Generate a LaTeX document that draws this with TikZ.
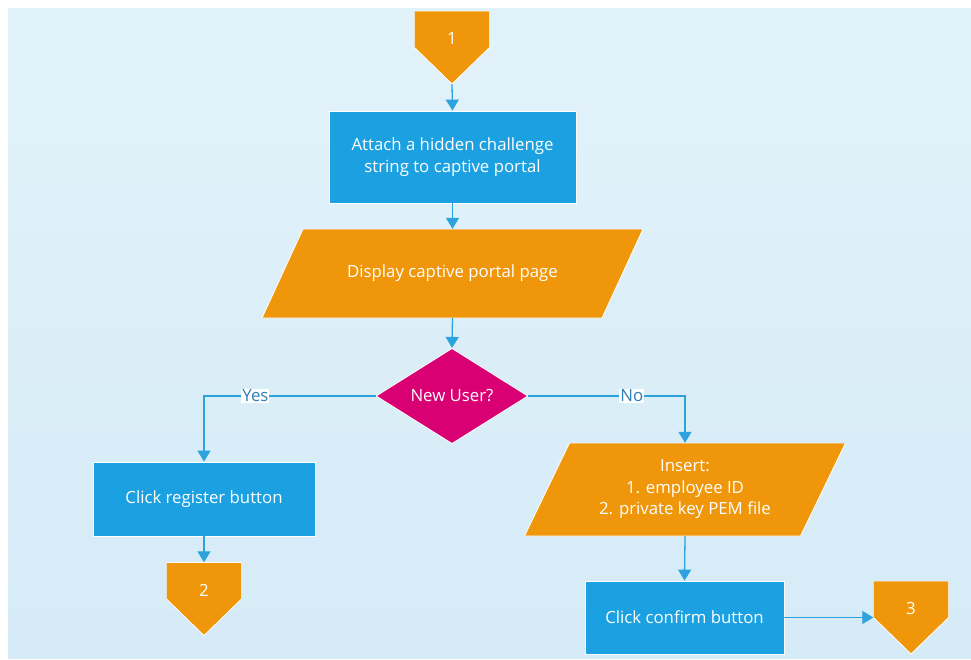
\documentclass[tikz,border=0pt]{standalone}
\usepackage{fontspec}
\setmainfont{Open Sans}
\usetikzlibrary{shapes.geometric,arrows.meta}

\definecolor{bgtop}{HTML}{E2F2FA}
\definecolor{bgbot}{HTML}{D5EBF7}
\definecolor{procblue}{HTML}{1BA1E2}
\definecolor{ioorange}{HTML}{F0960B}
\definecolor{decmagenta}{HTML}{D80073}
\definecolor{linkblue}{HTML}{2DA2DD}
\definecolor{labelblue}{HTML}{2E7FB6}

\begin{document}
\begin{tikzpicture}[x=1pt,y=-1pt,
  font=\fontsize{16.8}{21.5}\selectfont,
  proc/.style={rectangle, fill=procblue, draw=white, line width=0.8pt,
    text=white, align=center, inner sep=0pt},
  decision/.style={diamond, fill=decmagenta, draw=white, line width=0.8pt,
    text=white, align=center, inner sep=0pt},
  io/.style={rectangle, inner sep=0pt, text=white, align=center,
    path picture={
      \filldraw[fill=ioorange, draw=white, line width=0.8pt]
        ([xshift=#1]path picture bounding box.north west)
        -- (path picture bounding box.north east)
        -- ([xshift=-#1]path picture bounding box.south east)
        -- (path picture bounding box.south west) -- cycle;}},
  offpage/.style={rectangle, inner sep=0pt,
    minimum width=75pt, minimum height=73pt,
    label={[text=white, yshift=9pt]center:#1},
    path picture={
      \filldraw[fill=ioorange, draw=white, line width=0.8pt]
        (path picture bounding box.north west)
        -- (path picture bounding box.north east)
        -- (path picture bounding box.east)
        -- (path picture bounding box.south)
        -- (path picture bounding box.west) -- cycle;}},
  flow/.style={draw=linkblue, line width=1.3pt,
    -{Triangle[width=13pt,length=11pt]}},
  branch/.style={fill=white, inner sep=1pt, text=labelblue}
]
\useasboundingbox (0,0) rectangle (971,659);
\shade[top color=bgtop, bottom color=bgbot] (8,8) rectangle (971,658);

% start connector and first steps
\node[offpage=1] (c1) at (452,47.5) {};
\node[proc, minimum width=247pt, minimum height=92pt] (attach) at (452.5,157)
  {Attach a hidden challenge\\string to captive portal};
\node[io=41pt, minimum width=381pt, minimum height=89pt] (display) at (452.5,273.5)
  {Display captive portal page};
\node[decision, minimum width=152pt, minimum height=92pt] (newuser) at (452,396)
  {New User?};

% new user branch
\node[proc, minimum width=222pt, minimum height=74pt] (register) at (204,499)
  {Click register button};
\node[offpage=2] (c2) at (204,599) {};

% existing user branch
\node[io=45pt, minimum width=321pt, minimum height=93pt] (insert) at (685,489.5)
  {Insert:\\1. employee ID\\2. private key PEM file};
\node[proc, minimum width=199pt, minimum height=73pt] (confirm) at (684.5,617.5)
  {Click confirm button};
\node[offpage=3] (c3) at (911,617.5) {};

% connectors
\draw[flow] (c1.south) -- (attach.north);
\draw[flow] (attach.south) -- (display.north);
\draw[flow] (display.south) -- (newuser.north);
\draw[flow] (newuser.west) -| node[branch, pos=0.35] {Yes} (register.north);
\draw[flow] (newuser.east) -| node[branch, pos=0.33] {No} (insert.north);
\draw[flow] (register.south) -- (c2.north);
\draw[flow] (insert.south) -- (confirm.north);
\draw[flow] (confirm.east) -- (c3.west);
\end{tikzpicture}
\end{document}
